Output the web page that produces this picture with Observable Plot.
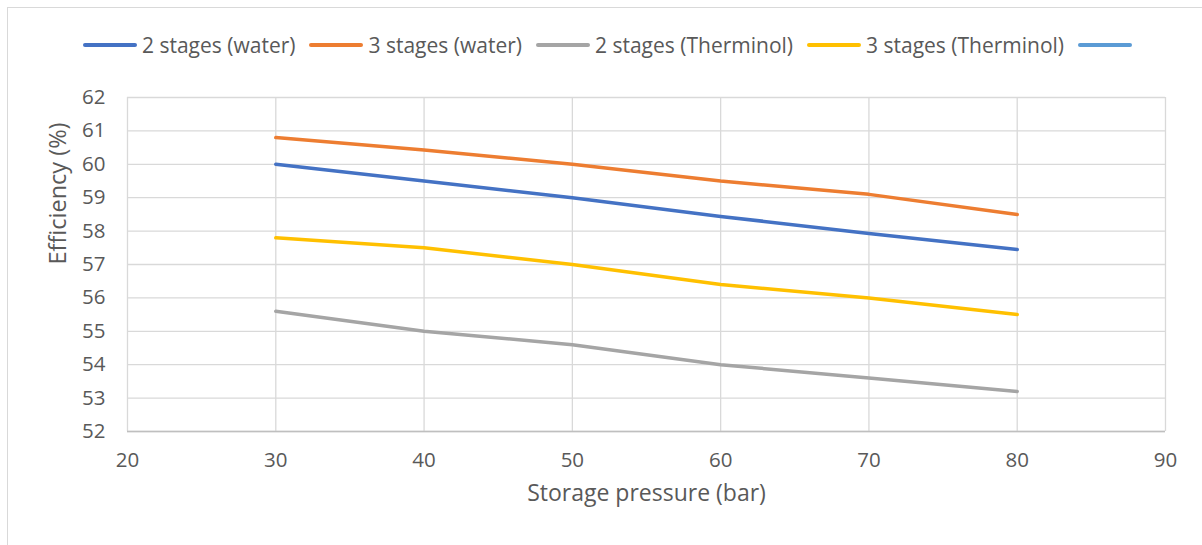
<!DOCTYPE html>
<html>
<head>
<meta charset="utf-8">
<script src="https://cdn.jsdelivr.net/npm/d3@7"></script>
<script src="https://cdn.jsdelivr.net/npm/@observablehq/plot@0.6"></script>
<style>
  html, body { margin: 0; padding: 0; background: #fff; }
  #wrap { position: relative; width: 1202px; height: 545px; overflow: hidden; background: #fff; font-family: "Open Sans", Lato, sans-serif; color: #595959; }
  #frame { position: absolute; left: 7px; top: 7px; width: 1220px; height: 580px; border: 1px solid #D9D9D9; box-sizing: border-box; pointer-events: none; }
  #legend { position: relative; height: 80px; display: flex; align-items: center; padding-left: 83px; padding-top: 10px; box-sizing: border-box; font-size: 21px; white-space: nowrap; }
  .item { display: flex; align-items: center; margin-right: 14px; }
  .swatch { width: 54px; height: 3.5px; border-radius: 2px; margin-right: 5px; }
  #chart svg { display: block; }
</style>
</head>
<body>
<div id="wrap">
  <div id="frame"></div>
  <div id="legend"></div>
  <div id="chart"></div>
</div>
<script>
const pressure = [30, 40, 50, 60, 70, 80];
const water2 = [60.0, 59.5, 59.0, 58.44, 57.93, 57.45];
const water3 = [60.8, 60.43, 60.0, 59.5, 59.1, 58.5];
const therm2 = [55.6, 55.0, 54.6, 54.0, 53.6, 53.2];
const therm3 = [57.8, 57.5, 57.0, 56.4, 56.0, 55.5];
const seriesNames = ["2 stages (water)", "3 stages (water)", "2 stages (Therminol)", "3 stages (Therminol)", ""];
const seriesColors = ["#4472C4", "#ED7D31", "#A5A5A5", "#FFC000", "#5B9BD5"];
const xTicks = [20, 30, 40, 50, 60, 70, 80, 90];
const yTicks = [52, 53, 54, 55, 56, 57, 58, 59, 60, 61, 62];
const xTitle = "Storage pressure (bar)";
const yTitle = "Efficiency (%)";

const seriesValues = [water2, water3, therm2, therm3];
const rows = [];
seriesValues.forEach((vals, i) => {
  vals.forEach((v, j) => rows.push({series: seriesNames[i], x: pressure[j], y: v}));
});

// legend
const legend = document.getElementById("legend");
seriesNames.forEach((name, i) => {
  const it = document.createElement("div");
  it.className = "item";
  const sw = document.createElement("div");
  sw.className = "swatch";
  sw.style.background = seriesColors[i];
  it.appendChild(sw);
  if (name) {
    const t = document.createElement("span");
    t.textContent = name;
    it.appendChild(t);
  }
  legend.appendChild(it);
});

const chart = Plot.plot({
  width: 1202,
  height: 465,
  marginTop: 17,
  marginBottom: 114,
  marginLeft: 127,
  marginRight: 37,
  style: {fontFamily: "'Open Sans', Lato, sans-serif", fontSize: "20.5px", color: "#595959", background: "transparent"},
  x: {domain: [20, 90]},
  y: {domain: [52, 62]},
  color: {domain: seriesNames, range: seriesColors},
  marks: [
    Plot.gridX(xTicks, {stroke: "#D9D9D9", strokeOpacity: 1, strokeWidth: 1.3}),
    Plot.gridY(yTicks, {stroke: "#D9D9D9", strokeOpacity: 1, strokeWidth: 1.3}),
    Plot.ruleY([52], {stroke: "#BFBFBF", strokeWidth: 1.3}),
    Plot.axisX(xTicks, {tickSize: 0, tickPadding: 21, label: null, fill: "#595959"}),
    Plot.axisY(yTicks, {tickSize: 0, tickPadding: 22, label: null, fill: "#595959"}),
    Plot.line(rows, {x: "x", y: "y", z: "series", stroke: "series", strokeWidth: 3.5, curve: "linear"}),
    Plot.text([yTitle], {frameAnchor: "left", dx: -69, rotate: -90, fill: "#595959", fontSize: 23.5}),
    Plot.text([xTitle], {frameAnchor: "bottom", dy: 69, fill: "#595959", fontSize: 23})
  ]
});
document.getElementById("chart").appendChild(chart);
</script>
</body>
</html>
